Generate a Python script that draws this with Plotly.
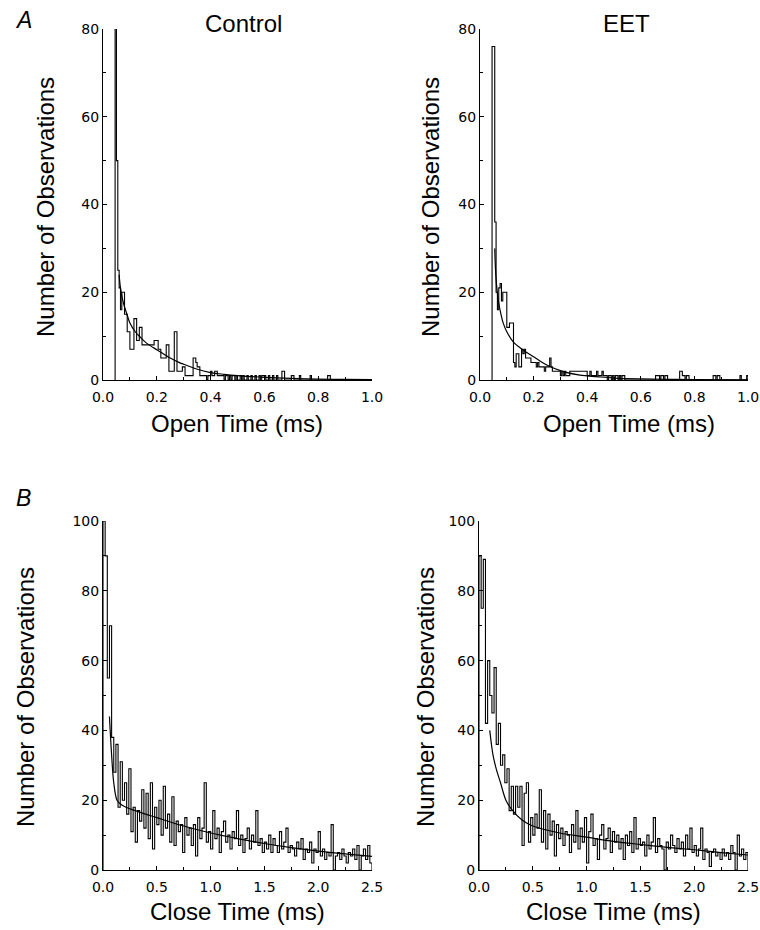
import numpy as np
import plotly.graph_objects as go

# ---------------- data ----------------
open_bin_start = 0.045
open_bin_width = 0.005
close_bin_start = 0.0
close_bin_width = 0.02

control_open_counts = [
    95, 50, 25, 21, 16, 20, 20, 15, 15, 11,
    11, 7, 7, 7, 14, 14, 9, 9, 12, 12,
    8, 8, 8, 8, 8, 8, 8, 8, 8, 9,
    9, 9, 7, 7, 5, 5, 5, 5, 8, 8,
    2, 2, 2, 2, 11, 11, 2, 2, 2, 2,
    3, 3, 1, 1, 1, 1, 1, 1, 5, 5,
    4, 3, 3, 1, 1, 1, 1, 1, 0, 1,
    1, 2, 1, 1, 2, 2, 1, 1, 1, 1,
    1, 0, 1, 1, 0, 1, 0, 1, 1, 0,
    1, 0, 0, 1, 0, 1, 0, 0, 1, 0,
    0, 1, 0, 0, 1, 0, 0, 1, 0, 1,
    1, 1, 0, 0, 1, 0, 0, 1, 0, 0,
    1, 0, 0, 0, 2, 2, 0, 0, 0, 0,
    0, 1, 1, 0, 0, 0, 0, 1, 0, 0,
    0, 0, 0, 0, 0, 1, 0, 0, 0, 0,
    0, 0, 0, 0, 0, 0, 0, 0, 1, 1,
    0, 0, 0, 0, 0, 0, 0, 0, 0, 0,
    0, 0, 0, 0, 0, 0, 0, 0, 0, 0,
    0, 0, 0, 0, 0, 0, 0, 0, 0, 0,
    0,
]

eet_open_counts = [
    76, 76, 36, 20, 16, 21, 22, 18, 20, 20,
    20, 12, 12, 13, 13, 13, 4, 3, 6, 6,
    3, 3, 7, 6, 7, 5, 5, 5, 5, 4,
    4, 4, 4, 3, 4, 3, 3, 3, 3, 2,
    3, 3, 3, 5, 3, 2, 2, 2, 2, 2,
    2, 1, 2, 1, 2, 1, 1, 1, 2, 2,
    2, 2, 2, 2, 2, 2, 2, 2, 2, 2,
    2, 1, 1, 2, 1, 1, 1, 1, 2, 1,
    1, 1, 2, 1, 1, 1, 0, 1, 1, 0,
    1, 0, 1, 1, 0, 1, 0, 1, 1, 0,
    0, 0, 0, 0, 0, 0, 0, 0, 0, 0,
    0, 0, 0, 0, 0, 0, 0, 0, 0, 0,
    0, 0, 1, 1, 1, 0, 1, 1, 0, 1,
    1, 0, 0, 0, 0, 0, 0, 0, 0, 0,
    2, 2, 1, 1, 0, 1, 1, 0, 0, 0,
    0, 0, 0, 0, 0, 0, 0, 0, 0, 0,
    0, 0, 0, 0, 0, 1, 1, 0, 1, 1,
    0, 0, 0, 0, 0, 0, 0, 0, 0, 0,
    0, 0, 0, 0, 0, 1, 0, 0, 0, 0,
    1,
]

control_close_counts = [
    100, 90, 55, 70, 38, 28, 36, 18, 31, 20,
    25, 16, 29, 11, 18, 8, 17, 14, 23, 12,
    22, 9, 25, 6, 18, 13, 20, 10, 24, 12,
    16, 8, 21, 7, 14, 11, 13, 5, 15, 10,
    12, 7, 13, 4, 15, 9, 12, 25, 8, 11,
    6, 17, 9, 12, 5, 11, 14, 8, 10, 6,
    11, 9, 17, 7, 10, 5, 9, 12, 6, 10,
    8, 17, 7, 9, 5, 8, 6, 10, 5, 9,
    7, 5, 11, 6, 8, 12, 5, 7, 6, 4,
    8, 6, 9, 3, 6, 5, 8, 2, 6, 5,
    11, 4, 6, 3, 5, 4, 13, 0, 4, 5,
    3, 6, 4, 2, 5, 4, 6, 3, 7, 0,
    4, 6, 3, 7, 2,
]

eet_close_counts = [
    90, 75, 89, 42, 60, 50, 45, 58, 36, 42,
    30, 33, 25, 29, 17, 24, 16, 24, 18, 24,
    7, 22, 25, 8, 15, 10, 16, 12, 23, 8,
    17, 6, 16, 10, 14, 4, 13, 9, 12, 7,
    11, 10, 5, 13, 8, 17, 6, 12, 8, 15,
    2, 11, 16, 7, 9, 3, 10, 13, 6, 9,
    12, 5, 11, 8, 10, 6, 9, 3, 10, 7,
    11, 5, 15, 6, 9, 7, 8, 4, 10, 6,
    8, 15, 5, 9, 7, 6, 0, 8, 6, 10,
    7, 5, 9, 6, 8, 4, 10, 6, 12, 5,
    7, 4, 6, 12, 3, 6, 5, 1, 5, 6,
    4, 5, 3, 6, 4, 5, 3, 7, 5, 0,
    10, 4, 6, 3, 5,
]

control_open_fit_t = [0.06, 0.065, 0.076, 0.089, 0.1, 0.12, 0.138, 0.162, 0.2, 0.224,
                      0.25, 0.286, 0.3, 0.348, 0.4, 0.45, 0.5, 0.6, 0.7, 0.8, 0.9, 1.0]
control_open_fit_n = [24, 21, 17.5, 15, 13, 11, 9.8, 8.4, 6.9, 6.0,
                      5.0, 3.9, 3.6, 2.5, 1.7, 1.3, 1.0, 0.6, 0.35, 0.2, 0.12, 0.07]

eet_open_fit_t = [0.055, 0.06, 0.07, 0.08, 0.087, 0.1, 0.124, 0.162, 0.2, 0.249,
                  0.311, 0.373, 0.435, 0.5, 0.6, 0.7, 0.8, 1.0]
eet_open_fit_n = [30, 23, 17.5, 14.5, 12.9, 11, 8.7, 6.8, 5.3, 3.4,
                  1.9, 1.1, 0.76, 0.45, 0.25, 0.15, 0.1, 0.05]

control_close_fit_t = [0.06, 0.08, 0.1, 0.13, 0.16, 0.2, 0.3, 0.5, 0.75, 1.0,
                       1.25, 1.5, 1.75, 2.0, 2.25, 2.5]
control_close_fit_n = [44, 33, 25, 20, 19, 18.2, 17, 15, 12.6, 10.6,
                       9.0, 7.6, 6.4, 5.4, 4.6, 3.9]

eet_close_fit_t = [0.1, 0.13, 0.16, 0.2, 0.25, 0.3, 0.4, 0.5, 0.75, 1.0,
                   1.25, 1.5, 1.75, 2.0, 2.25, 2.5]
eet_close_fit_n = [40, 33, 29, 25, 20, 17.5, 14.3, 12.6, 10.6, 9.4,
                   8.2, 7.3, 6.5, 5.8, 5.0, 4.3]

panel_titles = ["Control", "EET"]
open_xlabel = "Open Time (ms)"
close_xlabel = "Close Time (ms)"
ylabel = "Number of Observations"

# ---------------- figure ----------------
W, H = 760, 930
FONT = "Liberation Sans"
TICKFONT = "DejaVu Sans"


def step_xy(start, width, counts):
    counts = list(counts)
    edges = start + width * np.arange(len(counts) + 1)
    xs = [edges[0]] + list(edges) + [edges[-1]]
    ys = [0] + counts + [counts[-1], 0]
    return xs, ys


def px_x(p):
    return p / W


def px_y(p):
    return 1 - p / H


fig = go.Figure()

panels = [
    ("", control_open_counts, open_bin_start, open_bin_width,
     control_open_fit_t, control_open_fit_n, (103, 372), (29, 380), 1.0, 80, 0.2, 0.1),
    ("2", eet_open_counts, open_bin_start, open_bin_width,
     eet_open_fit_t, eet_open_fit_n, (480, 748), (29, 380), 1.0, 80, 0.2, 0.1),
    ("3", control_close_counts, close_bin_start, close_bin_width,
     control_close_fit_t, control_close_fit_n, (103, 372), (521, 870), 2.5, 100, 0.5, 0.25),
    ("4", eet_close_counts, close_bin_start, close_bin_width,
     eet_close_fit_t, eet_close_fit_n, (479, 748), (521, 870), 2.5, 100, 0.5, 0.25),
]

tickfont = dict(family=TICKFONT, size=14, color="black")

for suf, counts, start, width, ft, fn, xr, yr, xmax, ymax, xd, xm in panels:
    xs, ys = step_xy(start, width, counts)
    fig.add_trace(go.Scatter(x=xs, y=ys, mode="lines", line_shape="hv",
                             line=dict(color="black", width=1.1),
                             xaxis="x" + suf, yaxis="y" + suf, showlegend=False,
                             hoverinfo="skip"))
    fig.add_trace(go.Scatter(x=ft, y=fn, mode="lines", line_shape="spline",
                             line=dict(color="black", width=1.2),
                             xaxis="x" + suf, yaxis="y" + suf, showlegend=False,
                             hoverinfo="skip"))
    xkey = "xaxis" + suf
    ykey = "yaxis" + suf
    fig.update_layout(**{
        xkey: dict(domain=[px_x(xr[0]), px_x(xr[1])], range=[0, xmax],
                   anchor="y" + suf, dtick=xd, tick0=0, tickformat=".1f",
                   automargin=False,
                   showline=True, linecolor="black", linewidth=1, showgrid=False,
                   zeroline=False, ticks="inside", ticklen=4, tickwidth=1,
                   tickcolor="black", tickfont=tickfont, ticklabelstandoff=4,
                   minor=dict(dtick=xm, ticks="inside", ticklen=3, tickcolor="black",
                              showgrid=False)),
        ykey: dict(domain=[px_y(yr[1]), px_y(yr[0])], range=[0, ymax],
                   anchor="x" + suf, dtick=20, tick0=0, automargin=False,
                   showline=True, linecolor="black", linewidth=1, showgrid=False,
                   zeroline=False, ticks="inside", ticklen=4, tickwidth=1,
                   tickcolor="black", tickfont=tickfont, ticklabelstandoff=0,
                   minor=dict(dtick=10, ticks="inside", ticklen=3, tickcolor="black",
                              showgrid=False)),
    })

annotations = []


def txt(x, y, s, size=24, angle=0, italic=False):
    annotations.append(dict(
        x=px_x(x), y=px_y(y), xref="paper", yref="paper", text=s, showarrow=False,
        textangle=angle, xanchor="center", yanchor="middle",
        font=dict(family=FONT, size=size, color="black",
                  style="italic" if italic else "normal")))


txt(23, 20, "A", size=23, italic=True)
txt(23, 498, "B", size=23, italic=True)
txt(243, 24, panel_titles[0])
txt(626, 24, panel_titles[1])
txt(237, 423, open_xlabel)
txt(629, 423, open_xlabel)
txt(237, 911, close_xlabel)
txt(613, 911, close_xlabel)
txt(45, 207, ylabel, angle=-90)
txt(430, 207, ylabel, angle=-90)
txt(25, 697, ylabel, angle=-90)
txt(425, 697, ylabel, angle=-90)

fig.update_layout(template="none", width=W, height=H,
                  margin=dict(l=0, r=0, t=0, b=0, autoexpand=False),
                  paper_bgcolor="white", plot_bgcolor="white",
                  annotations=annotations, showlegend=False)

fig.write_html("out.html", config={"displayModeBar": False},
               post_script="document.body.style.margin='0';"
                           "document.body.style.overflow='hidden';")
